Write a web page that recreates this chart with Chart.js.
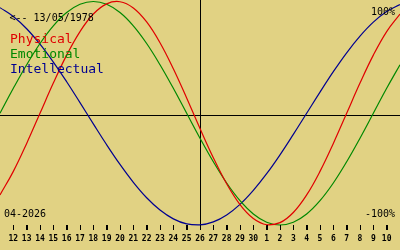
<!DOCTYPE html>
<html><head><meta charset="utf-8">
<script src="https://cdn.jsdelivr.net/npm/chart.js@4.4.1/dist/chart.umd.min.js"></script>
<style>html,body{margin:0;padding:0;background:#e1d283;overflow:hidden}#wrap{width:400px;height:250px}</style>
</head><body><div id="wrap"><canvas id="c" width="400" height="250"></canvas></div>
<script>
// Days shown: 11 April 2026 .. 11 May 2026
const days = ['11','12','13','14','15','16','17','18','19','20','21','22','23','24','25','26','27','28','29','30',
              '1','2','3','4','5','6','7','8','9','10','11'];
const physical = [-0.731,-0.520,-0.270,0.000,0.270,0.520,0.731,0.888,0.979,0.998,0.942,0.817,0.631,0.398,0.136,
                  -0.136,-0.398,-0.631,-0.817,-0.942,-0.998,-0.979,-0.888,-0.731,-0.520,-0.270,0.000,0.270,0.520,0.731,0.888];
const emotional = [0.000,0.223,0.434,0.624,0.782,0.901,0.975,1.000,0.975,0.901,0.782,0.624,0.434,0.223,0.000,
                   -0.223,-0.434,-0.624,-0.782,-0.901,-0.975,-1.000,-0.975,-0.901,-0.782,-0.624,-0.434,-0.223,0.000,0.223,0.434];
const intellectual = [0.945,0.866,0.756,0.618,0.458,0.282,0.095,-0.095,-0.282,-0.458,-0.618,-0.756,-0.866,-0.945,-0.990,
                      -0.999,-0.972,-0.910,-0.815,-0.690,-0.541,-0.372,-0.189,0.000,0.189,0.372,0.541,0.690,0.815,0.910,0.972];
const seriesNames = ['Physical','Emotional','Intellectual'];
const seriesColors = ['#e00000','#008800','#000090'];
const birthLabel = '<-- 13/05/1978';
const monthLabel = '04-2026';
const maxLabel = '100%';
const minLabel = '-100%';
const todayIndex = 15;

const BG = '#e1d283';
const MONO = '"DejaVu Sans Mono", "Liberation Mono", monospace';

const deco = {
  id: 'deco',
  beforeDatasetsDraw(chart) {
    const ctx = chart.ctx, a = chart.chartArea;
    const xs = chart.scales.x, ys = chart.scales.y;
    ctx.save();
    ctx.fillStyle = '#000';
    // horizontal zero axis (a couple of pixels below the curves' zero, as in the original)
    const y0 = Math.round(ys.getPixelForValue(0)) + 2;
    ctx.fillRect(0, y0, chart.width, 1);
    // vertical "today" axis
    const x0 = Math.round(xs.getPixelForValue(todayIndex));
    ctx.fillRect(x0, 0, 1, Math.round(a.bottom));
    ctx.restore();
  },
  afterDraw(chart) {
    const ctx = chart.ctx, a = chart.chartArea, xs = chart.scales.x;
    ctx.save();
    ctx.fillStyle = '#000';
    for (let i = 1; i <= days.length - 2; i++) {
      const x = Math.round(xs.getPixelForValue(i));
      ctx.fillRect(x, Math.round(a.bottom), 1, 5);
    }
    ctx.textBaseline = 'alphabetic';
    ctx.font = '10px ' + MONO;
    ctx.textAlign = 'left';
    ctx.fillText(birthLabel, 9.5, 20.5);
    ctx.fillText(monthLabel, 4, 216.5);
    ctx.textAlign = 'right';
    ctx.fillText(maxLabel, 395, 15);
    ctx.fillText(minLabel, 395, 217);
    ctx.textAlign = 'left';
    ctx.font = '13px ' + MONO;
    const bases = [43, 58, 73];
    seriesNames.forEach((n, i) => { ctx.fillStyle = seriesColors[i]; ctx.fillText(n, 10, bases[i]); });
    ctx.restore();
  }
};

new Chart(document.getElementById('c'), {
  type: 'line',
  data: {
    labels: days,
    datasets: [
      { label: seriesNames[0], data: physical, borderColor: seriesColors[0] },
      { label: seriesNames[1], data: emotional, borderColor: seriesColors[1] },
      { label: seriesNames[2], data: intellectual, borderColor: seriesColors[2] }
    ].map(d => Object.assign(d, { borderWidth: 1.2, pointRadius: 0, tension: 0.4, fill: false, clip: false }))
  },
  options: {
    responsive: false,
    animation: false,
    devicePixelRatio: 1,
    layout: { padding: 0 },
    plugins: { legend: { display: false }, tooltip: { enabled: false } },
    scales: {
      x: {
        type: 'category',
        offset: false,
        afterBuildTicks(scale) { scale.ticks = scale.ticks.filter(t => t.value >= 1 && t.value <= days.length - 2); },
        afterFit(scale) { scale.height = 25; },
        grid: { drawOnChartArea: false, tickLength: 5, color: 'rgba(0,0,0,0)', tickColor: '#000' },
        border: { display: false },
        ticks: { autoSkip: false, maxRotation: 0, padding: 4, color: '#000', font: { family: MONO, size: 8, weight: 'bold' } }
      },
      y: { display: false, min: -1, max: 1.0134 }
    }
  },
  plugins: [deco]
});
</script>
</body></html>
